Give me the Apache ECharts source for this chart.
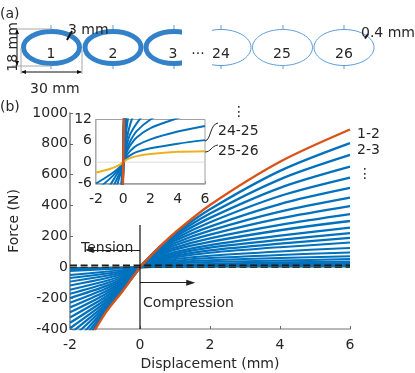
<!DOCTYPE html>
<html>
<head>
<meta charset="utf-8">
<style>
  html, body { margin: 0; padding: 0; background: #fff; }
  #chart { width: 415px; height: 373px; }
</style>
<script src="https://cdn.jsdelivr.net/npm/echarts@6/dist/echarts.min.js"></script>
</head>
<body>
<div id="chart"></div>
<script>
const displacement = [-2, -1, -0.5, -0.2, 0, 0.2, 0.5, 1, 2, 4, 6];

// force (N), one row per neighbouring pair of rings
const pair1to2 = [-680, -300, -155, -62, 0, 50, 120, 225, 404, 684, 893];
const pairs2to25 = [
  [-625, -292, -152, -61, 0, 50, 119, 218, 376, 625, 805],
  [-570, -283, -149, -60, 0, 49, 117, 208, 348, 570, 728],
  [-520, -272, -145, -59, 0, 48, 113, 197, 320, 515, 652],
  [-470, -259, -140, -57, 0, 47, 108, 185, 292, 462, 581],
  [-430, -245, -134, -55, 0, 45, 102, 172, 264, 410, 514],
  [-395, -229, -128, -53, 0, 42, 95, 157, 237, 360, 451],
  [-360, -212, -120, -50, 0, 39, 88, 143, 212, 317, 397],
  [-325, -194, -111, -47, 0, 35, 79, 128, 188, 275, 345],
  [-292, -176, -102, -44, 0, 32, 70, 114, 165, 240, 300],
  [-260, -158, -93, -41, 0, 28, 61, 99, 144, 205, 257],
  [-230, -141, -84, -37, 0, 25, 54, 87, 127, 178, 222],
  [-200, -124, -74, -33, 0, 22, 47, 75, 110, 153, 190],
  [-172, -107, -64, -29, 0, 19, 40, 65, 94, 130, 160],
  [-145, -90, -54, -25, 0, 16, 33, 53, 75, 103, 125],
  [-118, -73, -44, -20, 0, 13, 27, 42, 60, 80, 96],
  [-93, -57, -34, -16, 0, 10.5, 21, 33, 46, 60, 72],
  [-70, -42, -25, -12, 0, 8, 16, 24.5, 34, 44, 53],
  [-50, -29, -17, -8, 0, 5.5, 10.5, 15.5, 22, 32, 38],
  [-24, -13, -7, -3.2, 0, 4, 7.8, 11, 15.5, 23, 28],
  [-16, -9, -5, -2.5, 0, 3, 5.8, 8.8, 12, 16.5, 20],
  [-11, -6.6, -3.6, -1.8, 0, 2.3, 4.6, 7, 9.6, 12.4, 15],
  [-8, -4.7, -2.8, -1.4, 0, 1.6, 3.1, 4.7, 6.4, 8.6, 10.2],
  [-6, -3.6, -2.2, -1.1, 0, 1, 1.9, 2.9, 3.9, 5.2, 6.2],
];
const pair25to26 = [-2.9, -1.9, -1.2, -0.6, 0, 0.6, 1.15, 1.7, 2.3, 2.9, 3.1];

const dashUpper = [[-2, 13], [6, 13]];
const dashLower = [[-2, 0], [6, 0]];
const zeroLine = [[0, 274], [0, -400]];
const tensionArrow = [[0, 112], [-1.45, 112]];
const compressionArrow = [[0, -100], [1.45, -100]];
const insetZero = [[-2, 0], [6, 0]];

const BLUE = "#0072bd";
const ORANGE = "#d95319";
const YELLOW = "#edb120";
const RING = "#3382c9";
const RING_THIN = "#5a9bd8";
const TEXT = "#262626";
const FONT = "DejaVu Sans";

const chart = echarts.init(document.getElementById("chart"), null, { renderer: "canvas" });

function curve(values, color, grid, width, z) {
  return {
    type: "line",
    xAxisIndex: grid,
    yAxisIndex: grid,
    data: values.map((v, i) => [displacement[i], v]),
    smooth: 0.3,
    showSymbol: false,
    symbol: "none",
    silent: true,
    z,
    lineStyle: { color, width },
  };
}

function straight(data, grid, style, extra) {
  return Object.assign({
    type: "line",
    xAxisIndex: grid,
    yAxisIndex: grid,
    data,
    showSymbol: false,
    symbol: "none",
    silent: true,
    z: 5,
    lineStyle: style,
  }, extra);
}

function arrow(data) {
  return {
    type: "line",
    xAxisIndex: 0,
    yAxisIndex: 0,
    data: [],
    silent: true,
    z: 6,
    markLine: {
      silent: true,
      animation: false,
      symbol: ["none", "triangle"],
      symbolSize: [6, 9],
      label: { show: false },
      lineStyle: { color: "#222", width: 1, type: "solid" },
      data: [[{ coord: data[0] }, { coord: data[1] }]],
    },
  };
}

function txt(x, y, text, extra) {
  return {
    type: "text",
    x,
    y,
    z: 20,
    style: Object.assign({ text, font: `14px "${FONT}"`, fill: TEXT, textBaseline: "middle" }, extra),
  };
}

function seg(x1, y1, x2, y2, stroke, lineWidth) {
  return { type: "line", z: 12, shape: { x1, y1, x2, y2 }, style: { stroke, lineWidth } };
}

function head(x, y, dir) {
  const s = 5;
  const w = 2;
  const pts = {
    up: [[x, y], [x - w, y + s], [x + w, y + s]],
    down: [[x, y], [x - w, y - s], [x + w, y - s]],
    left: [[x, y], [x + s, y - w], [x + s, y + w]],
    right: [[x, y], [x - s, y - w], [x - s, y + w]],
  }[dir];
  return { type: "polygon", z: 13, shape: { points: pts }, style: { fill: "#111" } };
}

function ring(cx, width, color) {
  return {
    type: "ellipse",
    z: 10,
    shape: { cx, cy: 47.5, rx: 30.5 - width / 2, ry: 18.5 - width / 2 },
    style: { fill: "none", stroke: color, lineWidth: width },
  };
}

function ringTicks(cx, color) {
  return [seg(cx, 25, cx, 29, color, 1), seg(cx, 66, cx, 69, color, 1)];
}

const sketch = [
  ring(51.5, 5, RING), ring(113, 5, RING), ring(174, 5, RING),
  ring(221, 1, RING_THIN), ring(282.5, 1, RING_THIN), ring(344, 1, RING_THIN),
  ...[51, 113, 174, 221, 283, 344].flatMap((cx) => ringTicks(cx, RING_THIN)),
  { type: "rect", z: 11, shape: { x: 182, y: 20, width: 30, height: 55 }, style: { fill: "#fff" } },
  seg(12, 29, 51, 29, "#a8a8a8", 1),
  seg(12, 66, 51, 66, "#a8a8a8", 1),
  seg(21, 48, 21, 74, "#a8a8a8", 1),
  seg(82, 50, 82, 74, "#a8a8a8", 1),
  seg(17, 30, 17, 65, "#111", 1),
  head(17, 29, "up"),
  head(17, 66, "down"),
  seg(22, 72, 81, 72, "#111", 1),
  head(21, 72, "left"),
  head(82, 72, "right"),
  seg(67, 40, 72, 31, "#111", 2),
  seg(365, 38.5, 368, 34, "#111", 2),
  txt(0, 7, "(a)"),
  txt(0, 100, "(b)"),
  txt(68, 23, "3 mm"),
  txt(30, 82, "30 mm"),
  txt(361, 26, "0.4 mm"),
  { type: "text", z: 20, x: 6, y: 47, rotation: Math.PI / 2,
    style: { text: "18 mm", font: `14px "${FONT}"`, fill: TEXT, textAlign: "center", textBaseline: "middle" } },
  txt(51, 47, "1", { textAlign: "center" }),
  txt(113, 47, "2", { textAlign: "center" }),
  txt(173, 47, "3", { textAlign: "center" }),
  txt(198, 47, "···", { textAlign: "center" }),
  txt(221, 47, "24", { textAlign: "center" }),
  txt(282, 47, "25", { textAlign: "center" }),
  txt(344, 47, "26", { textAlign: "center" }),
];

const annotations = [
  txt(357, 127, "1-2"),
  txt(357, 143, "2-3"),
  txt(365, 167, "⋮", { textAlign: "center" }),
  txt(239, 105, "⋮", { textAlign: "center" }),
  txt(218, 124, "24-25"),
  txt(218, 144, "25-26"),
  txt(81, 241, "Tension"),
  txt(143, 296, "Compression"),
  {
    type: "bezierCurve",
    z: 12,
    shape: { x1: 205, y1: 141, x2: 218, y2: 123, cpx1: 211, cpy1: 140, cpx2: 210, cpy2: 124 },
    style: { stroke: "#222", lineWidth: 1, fill: "none" },
  },
  {
    type: "bezierCurve",
    z: 12,
    shape: { x1: 205, y1: 152, x2: 218, y2: 145, cpx1: 211, cpy1: 152, cpx2: 211, cpy2: 146 },
    style: { stroke: "#222", lineWidth: 1, fill: "none" },
  },
];

const plainNumber = (v) => String(v);
const tickLabelX = { color: TEXT, fontFamily: FONT, fontSize: 14, margin: 9, formatter: plainNumber };
const tickLabelY = { color: TEXT, fontFamily: FONT, fontSize: 14, margin: 2, formatter: plainNumber };

const option = {
  animation: false,
  textStyle: { fontFamily: FONT },
  grid: [
    { left: 70, top: 113, width: 280, height: 216, outerBoundsMode: "none" },
    { left: 96, top: 119.5, width: 109, height: 64, outerBoundsMode: "none", show: true, backgroundColor: "#fff", borderColor: "#a0a0a0", borderWidth: 1, z: 8 },
  ],
  xAxis: [
    {
      gridIndex: 0,
      type: "value",
      min: -2,
      max: 6,
      interval: 2,
      name: "Displacement (mm)",
      nameLocation: "middle",
      nameGap: 26,
      nameTextStyle: { color: TEXT, fontFamily: FONT, fontSize: 14 },
      splitLine: { show: false },
      axisLine: { onZero: false, lineStyle: { color: "#b8b8b8", width: 2 } },
      axisTick: { inside: true, length: 3, lineStyle: { color: "#666" } },
      axisLabel: tickLabelX,
    },
    {
      gridIndex: 1,
      type: "value",
      min: -2,
      max: 6,
      interval: 2,
      splitLine: { show: false },
      axisLine: { onZero: false, lineStyle: { color: "#a0a0a0", width: 1.5 } },
      axisTick: { inside: true, length: 2, lineStyle: { color: "#666" } },
      axisLabel: tickLabelX,
    },
  ],
  yAxis: [
    {
      gridIndex: 0,
      type: "value",
      min: -400,
      max: 1000,
      interval: 200,
      name: "Force (N)",
      nameLocation: "middle",
      nameGap: 22,
      nameTextStyle: { color: TEXT, fontFamily: FONT, fontSize: 14 },
      splitLine: { show: false },
      axisLine: { onZero: false, lineStyle: { color: "#808080", width: 1.5 } },
      axisTick: { inside: true, length: 3, lineStyle: { color: "#666" } },
      axisLabel: tickLabelY,
    },
    {
      gridIndex: 1,
      type: "value",
      min: -6,
      max: 12,
      interval: 6,
      splitLine: { show: false },
      axisLine: { onZero: false, lineStyle: { color: "#a0a0a0", width: 1.5 } },
      axisTick: { inside: true, length: 2, lineStyle: { color: "#666" } },
      axisLabel: Object.assign({}, tickLabelY, { margin: 4 }),
    },
  ],
  graphic: { elements: [...sketch, ...annotations] },
  series: [
    curve(pair25to26, YELLOW, 0, 1.8, 1),
    ...pairs2to25.map((row, i) => curve(row, BLUE, 0, i < 12 ? 2.3 : 2, 2)),
    curve(pair1to2, ORANGE, 0, 2.4, 3),
    straight(dashUpper, 0, { color: "#1a1a1a", width: 1.4, type: [7, 3.6] }),
    straight(dashLower, 0, { color: "#333", width: 1.6, type: [7, 3.6] }),
    straight(zeroLine, 0, { color: "#111", width: 1.2 }),
    arrow(tensionArrow),
    arrow(compressionArrow),
    straight(insetZero, 1, { color: "#ddd", width: 1 }, { z: 9 }),
    ...pairs2to25.map((row) => curve(row, BLUE, 1, 2, 10)),
    curve(pair25to26, YELLOW, 1, 2, 11),
    curve(pair1to2, ORANGE, 1, 2.4, 11),
  ],
};

chart.setOption(option);
</script>
</body>
</html>
